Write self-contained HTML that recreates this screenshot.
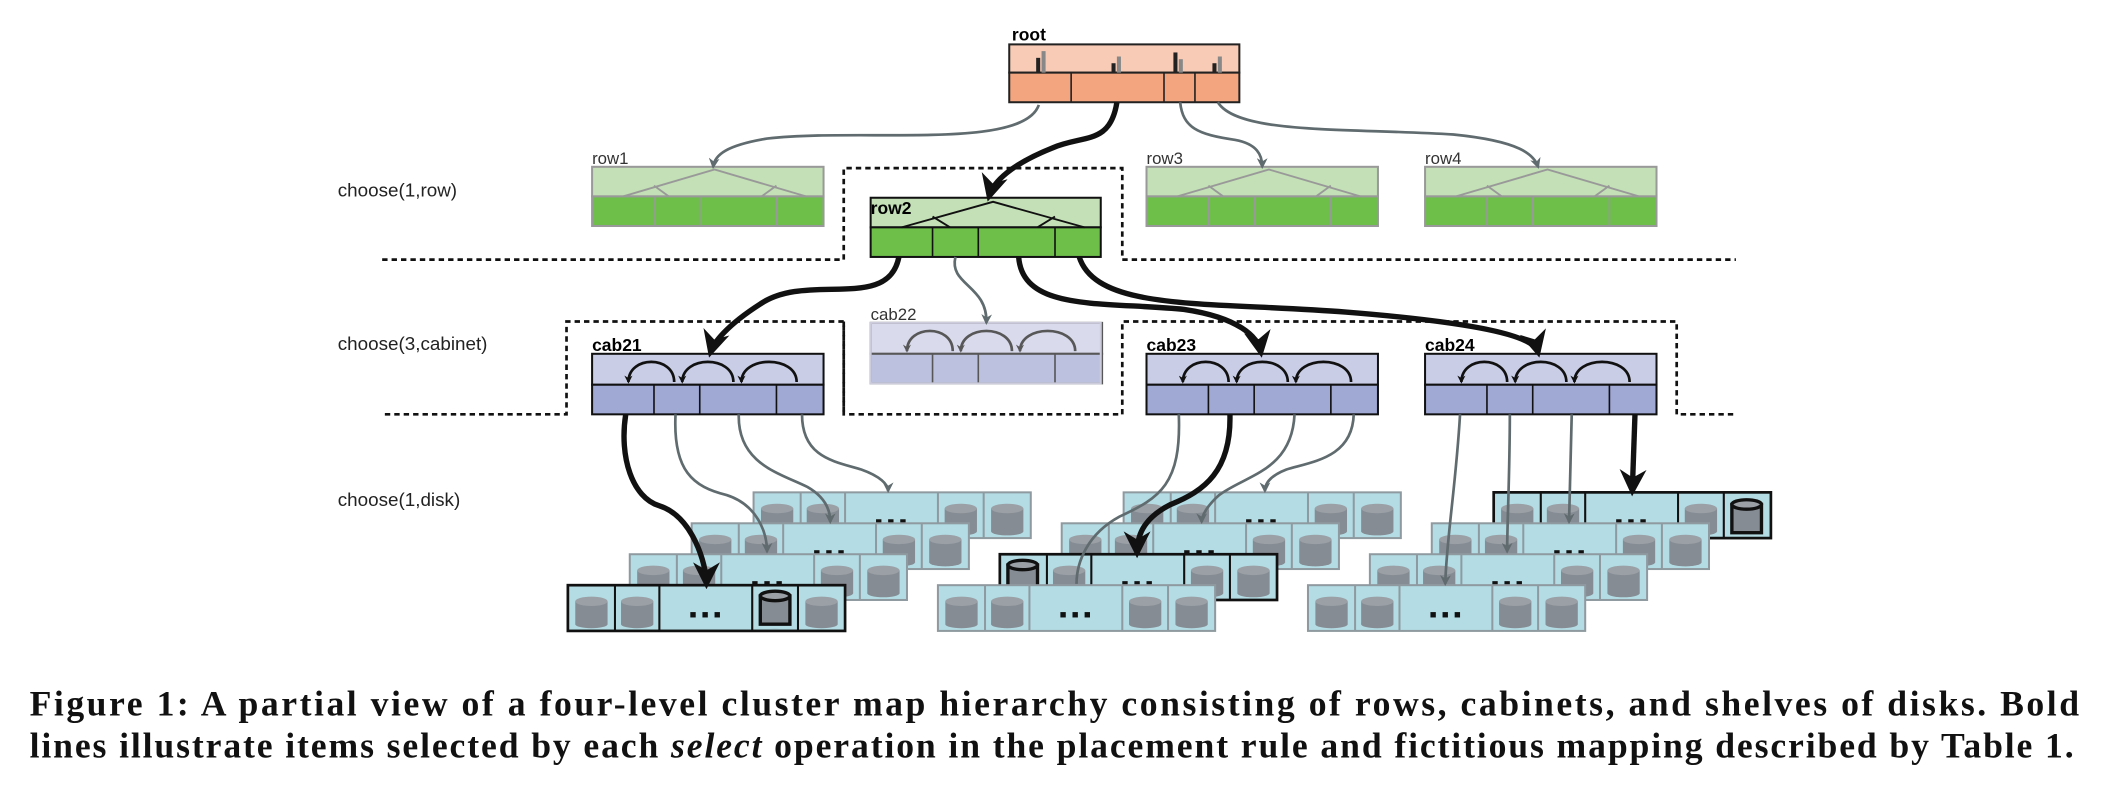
<!DOCTYPE html>
<html><head><meta charset="utf-8"><style>
html,body{margin:0;padding:0;background:#fff;}
svg{display:block;}
</style></head><body>
<svg width="2110" height="791" viewBox="0 0 1568 588" preserveAspectRatio="none" xmlns="http://www.w3.org/2000/svg" font-family="Liberation Sans, sans-serif">
<defs>
<marker id="ag" viewBox="0 0 10 10" refX="8" refY="5" markerWidth="4" markerHeight="4" orient="auto-start-reverse"><path d="M0,0 L10,5 L0,10 L3,5 z" fill="#5f6b6e"/></marker>
<marker id="ab" viewBox="0 0 10 10" refX="8" refY="5" markerWidth="3" markerHeight="3" orient="auto-start-reverse"><path d="M0,0 L10,5 L0,10 L3,5 z" fill="#111"/></marker>
<marker id="ak" viewBox="0 0 10 10" refX="8" refY="5" markerWidth="5" markerHeight="5" orient="auto-start-reverse"><path d="M0,0 L10,5 L0,10 L3,5 z" fill="#111"/></marker>
<g id="disk"><rect x="-12" y="11" width="24" height="17" fill="#868c93"/><ellipse cx="0" cy="28" rx="12" ry="3" fill="#868c93"/><ellipse cx="0" cy="11" rx="12" ry="3.5" fill="#9aa0a6"/></g>
<g id="shelf">
<rect x="0" y="0" width="206" height="34" fill="#b3dce4" stroke="#8f9aa0" stroke-width="1.5"/>
<path d="M35,0V34M68,0V34M137,0V34M171,0V34" stroke="#8f9aa0" stroke-width="1.5"/>
<use href="#disk" x="17.5" y="1"/><use href="#disk" x="51.5" y="1"/><use href="#disk" x="154" y="1"/><use href="#disk" x="188.5" y="1"/>
<rect x="91" y="20" width="4" height="4" fill="#111"/><rect x="100" y="20" width="4" height="4" fill="#111"/><rect x="109" y="20" width="4" height="4" fill="#111"/>
</g>
</defs>
<rect width="1568" height="588" fill="#fff"/>

<g stroke="#111" stroke-width="2" stroke-dasharray="4,3" fill="none">
<path d="M284,193H627V125H834V193H1290"/>
<path d="M286,308H421V239H627V308H834V239H1246V308H1290"/>
<path d="M627,239V308"/>
</g>

<rect x="750" y="33" width="171" height="21" fill="#f7cbb5" stroke="#222" stroke-width="1.5"/>
<rect x="750" y="54" width="171" height="22" fill="#f2a57f" stroke="#222" stroke-width="1.5"/>
<path d="M796,54V76M865,54V76M888,54V76" stroke="#222" stroke-width="1.2"/>
<g fill="#222"><rect x="770" y="43" width="3" height="11"/><rect x="826" y="47" width="3" height="7"/><rect x="872" y="39" width="3" height="15"/><rect x="901" y="47" width="3" height="7"/></g>
<g fill="#888"><rect x="774" y="38" width="3" height="16"/><rect x="830" y="42" width="3" height="12"/><rect x="876" y="44" width="3" height="10"/><rect x="905" y="42" width="3" height="12"/></g>
<text x="752" y="30" font-size="13" font-weight="bold">root</text>

<g id="rowf">
<rect x="440" y="124" width="172" height="22" fill="#c3e0b6" stroke="#999" stroke-width="1.5"/>
<rect x="440" y="146" width="172" height="22" fill="#6dbf4a" stroke="#999" stroke-width="1.5"/>
<path d="M486,146V168M520,146V168M577,146V168" stroke="#999" stroke-width="1.2"/>
<path d="M463,146L531,126L599,146M486,138L497,146M577,138L566,146" stroke="#999" stroke-width="1.4" fill="none"/>
</g>
<use href="#rowf" x="412"/><use href="#rowf" x="619"/>
<text x="440" y="122" font-size="12.5" fill="#333">row1</text>
<text x="852" y="122" font-size="12.5" fill="#333">row3</text>
<text x="1059" y="122" font-size="12.5" fill="#333">row4</text>
<rect x="647" y="147" width="171" height="22" fill="#c3e0b6" stroke="#111" stroke-width="1.5"/>
<rect x="647" y="169" width="171" height="22" fill="#6dbf4a" stroke="#111" stroke-width="1.5"/>
<path d="M693,169V191M727,169V191M784,169V191" stroke="#111" stroke-width="1.2"/>
<path d="M670,169L738,150L806,169M693,161L706,169M784,161L771,169" stroke="#111" stroke-width="1.4" fill="none"/>
<text x="647" y="159" font-size="13" font-weight="bold">row2</text>

<text x="251" y="146" font-size="14" fill="#222">choose(1,row)</text>
<text x="251" y="260" font-size="14" fill="#222">choose(3,cabinet)</text>
<text x="251" y="376" font-size="14" fill="#222">choose(1,disk)</text>

<g id="cab">
<rect x="440" y="263" width="172" height="23" fill="#c9cde6" stroke="#111" stroke-width="1.5"/>
<rect x="440" y="286" width="172" height="22" fill="#a0a8d4" stroke="#111" stroke-width="1.5"/>
<path d="M486,286V308M520,286V308M577,286V308" stroke="#111" stroke-width="1.2"/>
<g stroke="#111" stroke-width="2" fill="none">
<path d="M467,284C467,264 501,264 501,284" marker-start="url(#ab)"/>
<path d="M507,284C507,264 545,264 545,284" marker-start="url(#ab)"/>
<path d="M551,284C551,264 592,264 592,284" marker-start="url(#ab)"/>
</g>
</g>
<use href="#cab" x="412"/><use href="#cab" x="619"/>
<g opacity="0.7"><use href="#cab" x="207" y="-23"/></g>
<rect x="647" y="240" width="171" height="45" fill="none" stroke="#ccd" stroke-width="1.5"/>
<text x="440" y="261" font-size="13" font-weight="bold">cab21</text>
<text x="852" y="261" font-size="13" font-weight="bold">cab23</text>
<text x="1059" y="261" font-size="13" font-weight="bold">cab24</text>
<text x="647" y="238" font-size="12.5" fill="#333">cab22</text>

<use href="#shelf" x="560" y="366"/><use href="#shelf" x="514" y="389"/><use href="#shelf" x="468" y="412"/>
<use href="#shelf" x="422" y="435"/>
<rect x="422" y="435" width="206" height="34" fill="none" stroke="#111" stroke-width="2"/>
<path d="M457,435V469M490,435V469M559,435V469M593,435V469" stroke="#111" stroke-width="1.5"/>
<rect x="560" y="439" width="30" height="28" fill="#b3dce4"/>
<g transform="translate(576,437)"><rect x="-11" y="6" width="22" height="21" fill="#868c93" stroke="#111" stroke-width="2.5"/><ellipse cx="0" cy="6" rx="11" ry="3.5" fill="#9aa0a6" stroke="#111" stroke-width="2.5"/></g>
<use href="#shelf" x="835" y="366"/><use href="#shelf" x="789" y="389"/><use href="#shelf" x="743" y="412"/>
<rect x="743" y="412" width="206" height="34" fill="none" stroke="#111" stroke-width="2"/>
<path d="M778,412V446M811,412V446M880,412V446M914,412V446" stroke="#111" stroke-width="1.5"/>
<rect x="746" y="414" width="30" height="28" fill="#b3dce4"/>
<g transform="translate(760,414)"><rect x="-11" y="6" width="22" height="21" fill="#868c93" stroke="#111" stroke-width="2.5"/><ellipse cx="0" cy="6" rx="11" ry="3.5" fill="#9aa0a6" stroke="#111" stroke-width="2.5"/></g>
<use href="#shelf" x="697" y="435"/>
<use href="#shelf" x="1110" y="366"/>
<rect x="1110" y="366" width="206" height="34" fill="none" stroke="#111" stroke-width="2"/>
<path d="M1145,366V400M1178,366V400M1247,366V400M1281,366V400" stroke="#111" stroke-width="1.5"/>
<rect x="1284" y="368" width="30" height="30" fill="#b3dce4"/>
<g transform="translate(1298,369)"><rect x="-11" y="6" width="22" height="21" fill="#868c93" stroke="#111" stroke-width="2.5"/><ellipse cx="0" cy="6" rx="11" ry="3.5" fill="#9aa0a6" stroke="#111" stroke-width="2.5"/></g>
<use href="#shelf" x="1064" y="389"/><use href="#shelf" x="1018" y="412"/><use href="#shelf" x="972" y="435"/>

<g stroke="#5f6b6e" stroke-width="2" fill="none" marker-end="url(#ag)">
<path d="M772,78C760,112 640,95 570,103C540,108 531,115 530,124"/>
<path d="M877,76C879,95 890,100 918,104C934,107 938,115 938,124"/>
<path d="M905,76C920,100 1000,95 1080,100C1130,105 1140,115 1143,124"/>
<path d="M710,191C705,212 734,212 733,240"/>
<path d="M502,308C500,350 515,362 540,368C562,375 570,395 570,410"/>
<path d="M549,308C548,345 580,352 600,362C614,370 617,380 617,388"/>
<path d="M596,308C596,340 620,343 640,349C654,354 660,360 660,365"/>
<path d="M876,308C878,360 862,370 832,384C808,397 800,418 800,434" marker-end="none"/>
<path d="M962,308C960,350 926,353 906,368C896,377 893,384 893,388"/>
<path d="M1006,308C1005,340 976,343 956,349C943,354 940,360 940,365"/>
<path d="M1085,308C1082,360 1075,400 1074,434"/>
<path d="M1122,308C1122,350 1120,390 1120,410"/>
<path d="M1168,308L1166,388"/>
</g>
<g stroke="#111" stroke-width="4" fill="none" marker-end="url(#ak)">
<path d="M830,76C825,108 805,100 782,110C752,122 738,135 735,146"/>
<path d="M668,191C660,232 600,202 565,226C540,242 530,255 528,262"/>
<path d="M757,191C760,232 820,224 880,230C920,236 935,250 937,262"/>
<path d="M802,191C815,232 900,224 1000,232C1100,240 1140,250 1143,262"/>
<path d="M465,308C460,340 470,370 490,376C515,384 525,420 525,434"/>
<path d="M914,308C915,350 895,365 870,375C848,386 845,400 845,411"/>
<path d="M1215,308L1213,365"/>
</g>

<g font-family="Liberation Serif, serif" font-weight="bold" font-size="26.5" fill="#111">
<text x="22" y="532" textLength="1523" lengthAdjust="spacing">Figure 1:  A partial view of a four-level cluster map hierarchy consisting of rows, cabinets, and shelves of disks.  Bold</text>
<text x="22" y="563" textLength="1519" lengthAdjust="spacing">lines illustrate items selected by each <tspan font-style="italic">select</tspan> operation in the placement rule and fictitious mapping described by Table 1.</text>
</g>
</svg>
</body></html>
